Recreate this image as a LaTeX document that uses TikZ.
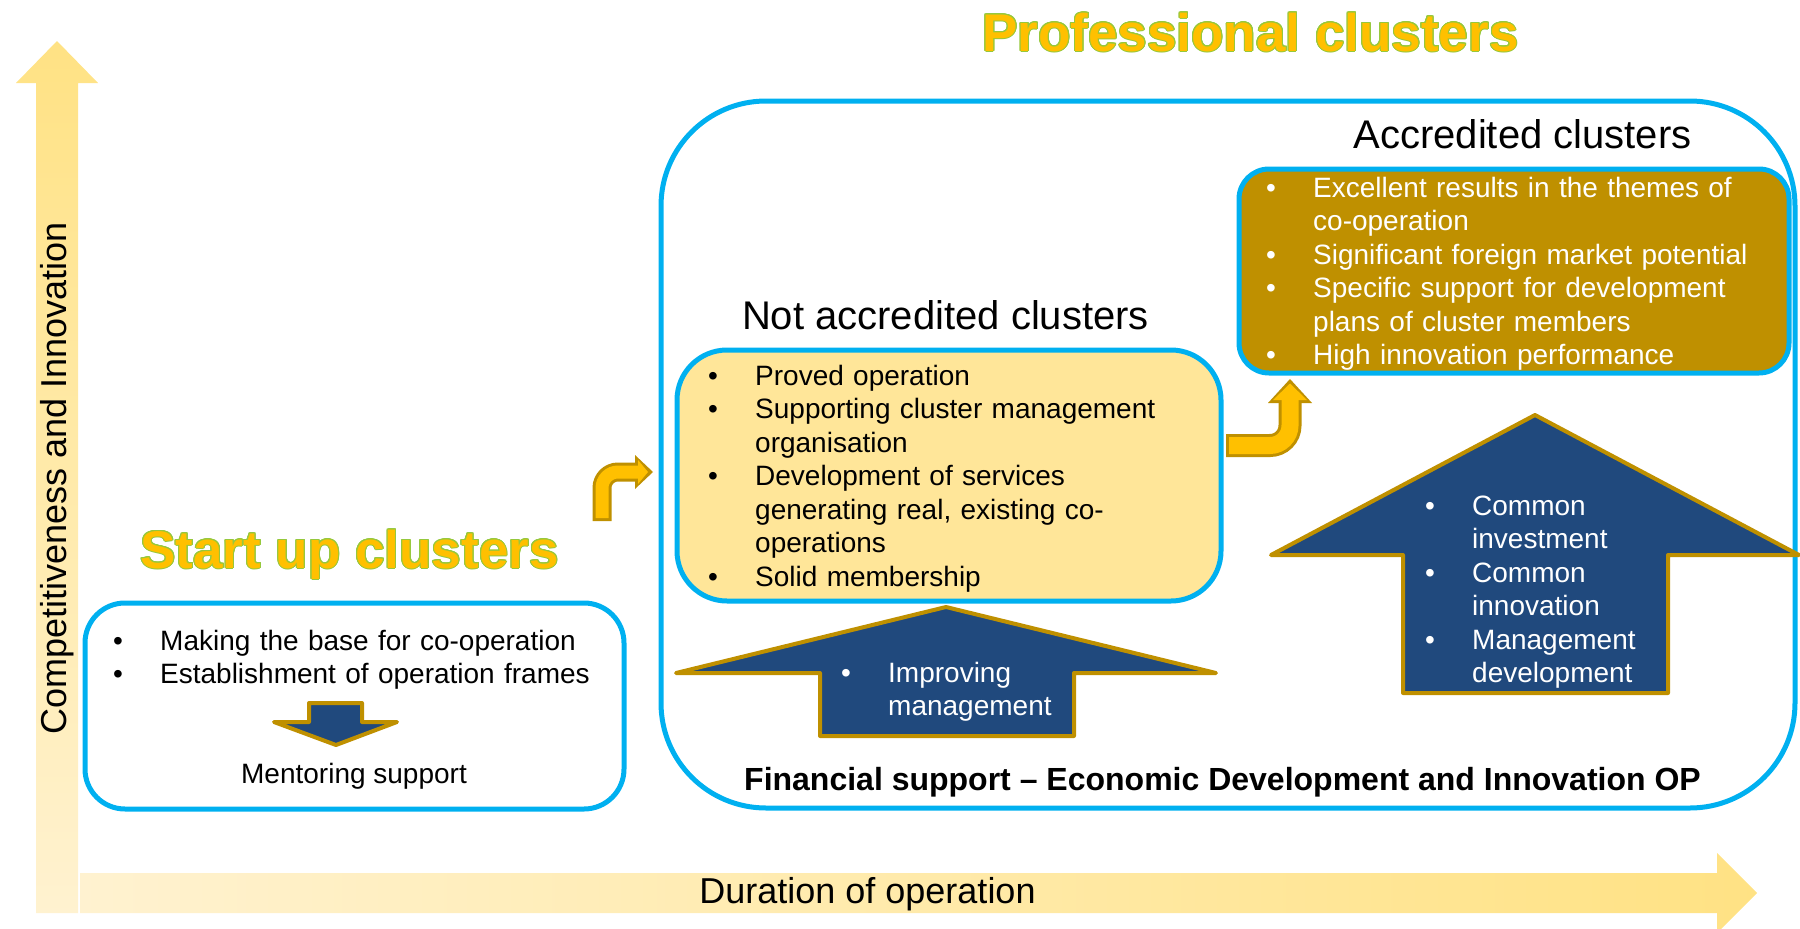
\documentclass[tikz,border=0pt]{standalone}
\usepackage{fontspec}
\setmainfont{Liberation Sans}
\usepackage{contour}
\usetikzlibrary{arrows.meta,positioning,calc}
\definecolor{cyanline}{RGB}{0,176,240}
\definecolor{goldline}{RGB}{191,144,0}
\definecolor{goldfill}{RGB}{255,192,0}
\definecolor{paleyellow}{RGB}{255,230,153}
\definecolor{navyfill}{RGB}{32,73,125}
\definecolor{axislight}{RGB}{255,242,208}
\definecolor{axisdark}{RGB}{255,226,132}
\definecolor{titlerim}{RGB}{150,200,60}
\contourlength{1pt}
\newcommand{\bul}{\hangindent=42pt\hangafter=1\makebox[42pt][l]{\hspace{-5pt}\textbullet}}
\newcommand{\gtitle}[1]{\textcolor{goldfill}{\contour{titlerim}{#1}}}
\tikzset{
	cbox/.style={draw=cyanline, line width=5pt, rounded corners=#1},
	cbox/.default=40pt,
	bodytext/.style={anchor=base west, inner sep=0pt, text width=560pt, align=left, font=\fontsize{28}{33.5}\selectfont},
	bigtitle/.style={anchor=base, inner sep=0pt, font=\fontsize{53}{60}\selectfont\bfseries},
	subtitle/.style={anchor=base, inner sep=0pt, font=\fontsize{40}{46}\selectfont},
	axislabel/.style={anchor=base, inner sep=0pt, font=\fontsize{36}{40}\selectfont},
	blockarrow/.style={draw=goldline, line width=4pt, fill=navyfill, line join=round},
}

\begin{document}
\begin{tikzpicture}[x=1pt, y=-1pt]
		\useasboundingbox (0,0) rectangle (1800,929);

		\shade[top color=axisdark, bottom color=axislight] (36,913) -- (36,83) -- (16,83) -- (57,41) -- (98,83) -- (78,83) -- (78,913) -- cycle;
		\shade[left color=axislight, right color=axisdark] (80,873) -- (1717,873) -- (1717,853) -- (1757,893) -- (1717,933) -- (1717,913) -- (80,913) -- cycle;
		\node[axislabel, rotate=90]	(ylabel)	at (66,478.5)		{Competitiveness and Innovation};
		\node[axislabel]		(xlabel)	at (867.5,903)		{Duration of operation};

		\node[cbox=105pt, minimum width=1134pt, minimum height=707pt]			(profbox)	at (1228,454.5)	{};
		\node[cbox, minimum width=539pt, minimum height=206pt]				(startbox)	at (354.5,706)	{};
		\node[cbox=50pt, fill=paleyellow, minimum width=544pt, minimum height=251pt]	(notbox)	at (949,475.5)	{};
		\node[cbox=30pt, fill=goldline, minimum width=550pt, minimum height=204pt]	(accbox)	at (1514,271)	{};

		\node[bigtitle]		(proftitle)	at (1250.5,51)		{\gtitle{Professional clusters}};
		\node[bigtitle]		(starttitle)	at (349.5,568)		{\gtitle{Start up clusters}};
		\node[subtitle]		(nottitle)	at (945.5,329)		{Not accredited clusters};
		\node[subtitle]		(acctitle)	at (1522.5,148)		{Accredited clusters};

		\node[bodytext]		(startlist)	at (118,650)		{\bul Making the base for co-operation\par\bul Establishment of operation frames\par};
		\draw[blockarrow] (309,703) -- (362,703) -- (362,722) -- (397,722) -- (336,745) -- (274,722) -- (309,722) -- cycle;
		\node[anchor=base, inner sep=0pt, font=\fontsize{28}{33.5}\selectfont]	(mentor)	at (354,783)	{Mentoring support};

		\node[bodytext]		(notlist)	at (713,385)		{\bul Proved operation\par
			\bul Supporting cluster management\newline organisation\par
			\bul Development of services\newline generating real, existing co-\newline operations\par
			\bul Solid membership\par};
		\node[bodytext, text=white]	(acclist)	at (1271,197)		{\bul Excellent results in the themes of\newline co-operation\par
			\bul Significant foreign market potential\par
			\bul Specific support for development\newline plans of cluster members\par
			\bul High innovation performance\par};

		\draw[blockarrow] (946,607) -- (1216,673) -- (1074,673) -- (1074,736) -- (820,736) -- (820,673) -- (676,673) -- cycle;
		\node[bodytext, text=white]	(implist)	at (846,682)		{\bul Improving\newline management\par};
		\draw[blockarrow] (1535,415) -- (1799,555) -- (1668,555) -- (1668,693) -- (1403,693) -- (1403,555) -- (1271,555) -- cycle;
		\node[bodytext, text=white]	(comlist)	at (1430,515)		{\bul Common\newline investment\par\bul Common\newline innovation\par\bul Management\newline development\par};

		\node[anchor=base west, inner sep=0pt, font=\fontsize{32}{36}\selectfont\bfseries]	(fundtext)	at (744,790)	{Financial support -- Economic Development and Innovation OP};

		\coordinate	(stepin)	at (602,521);
		\coordinate	(stepbend)	at (602,472);
		\coordinate	(stepout)	at (637,472);
		\draw[line width=19pt, goldline, rounded corners=16pt] (stepin) -- (stepbend) -- (stepout);
		\fill[goldline] (635,455) -- (653,472) -- (635,489) -- cycle;
		\draw[line width=13pt, goldfill, rounded corners=16pt] ($(stepin)+(0,-3)$) -- (stepbend) -- ($(stepout)+(3,0)$);
		\fill[goldfill] (638,460) -- (648,472) -- (638,484) -- cycle;

		\coordinate	(risein)	at (1226,445.5);
		\coordinate	(risebend)	at (1290,445.5);
		\coordinate	(riseout)	at (1290,401);
		\draw[line width=23pt, goldline, rounded corners=20pt] (risein) -- (risebend) -- (riseout);
		\fill[goldline] (1268,403) -- (1290,379) -- (1312,403) -- cycle;
		\draw[line width=17pt, goldfill, rounded corners=20pt] ($(risein)+(3,0)$) -- (risebend) -- ($(riseout)+(0,-2)$);
		\fill[goldfill] (1273,400) -- (1290,383.5) -- (1307,400) -- cycle;
	\end{tikzpicture}
\end{document}
